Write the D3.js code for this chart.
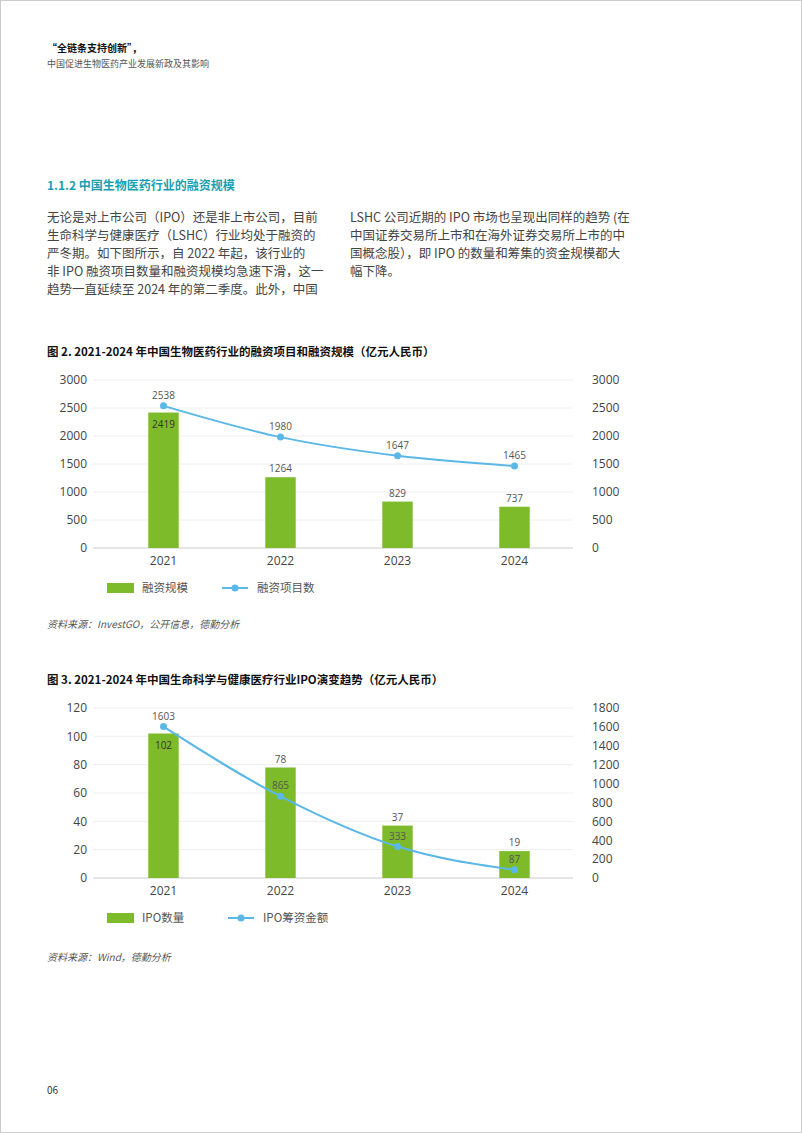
<!DOCTYPE html>
<html lang="zh">
<head>
<meta charset="utf-8">
<script src="https://d3js.org/d3.v7.min.js"></script>
<style>
body{margin:0;background:#fff;font-family:"Noto Sans CJK SC","Open Sans",sans-serif;}
svg text{font-family:"Open Sans","Noto Sans CJK SC",sans-serif;}
</style>
</head>
<body>
<svg id="page" width="802" height="1133"></svg>
<script>
var years = ["2021","2022","2023","2024"];
var fundScale = [2419,1264,829,737];
var fundCount = [2538,1980,1647,1465];
var ipoCount = [102,78,37,19];
var ipoAmount = [1603,865,333,87];
var ticks1L = [0,500,1000,1500,2000,2500,3000];
var ticks2L = [0,20,40,60,80,100,120];
var ticks2R = [0,200,400,600,800,1000,1200,1400,1600,1800];

var svg = d3.select("#page");
var cjk = '"Noto Sans CJK SC",sans-serif';
svg.append("rect").attr("x",0.5).attr("y",0.5).attr("width",801).attr("height",1132).attr("fill","none").attr("stroke","#ccc");

function txt(x,y,s,o){
  var t = svg.append("text").attr("x",x).attr("y",y).text(s)
    .style("font-family",cjk).style("font-size",(o.size||12)+"px").attr("fill",o.fill||"#333");
  if(o.bold) t.style("font-weight","bold");
  if(o.italic) t.style("font-style","italic");
  return t;
}
txt(47,52,"“全链条支持创新”，",{size:10,bold:true,fill:"#111"});
txt(47,67,"中国促进生物医药产业发展新政及其影响",{size:9,fill:"#555"});
txt(47,190,"1.1.2 中国生物医药行业的融资规模",{size:12,bold:true,fill:"#1a9fb0"});
var left = ["无论是对上市公司（IPO）还是非上市公司，目前","生命科学与健康医疗（LSHC）行业均处于融资的","严冬期。如下图所示，自 2022 年起，该行业的","非 IPO 融资项目数量和融资规模均急速下滑，这一","趋势一直延续至 2024 年的第二季度。此外，中国"];
var right = ["LSHC 公司近期的 IPO 市场也呈现出同样的趋势 (在","中国证券交易所上市和在海外证券交易所上市的中","国概念股），即 IPO 的数量和筹集的资金规模都大","幅下降。"];
left.forEach(function(s,i){txt(47,222+i*18,s,{size:12.5,fill:"#444"});});
right.forEach(function(s,i){txt(350,222+i*18,s,{size:12.5,fill:"#444"});});
txt(47,356,"图 2. 2021-2024 年中国生物医药行业的融资项目和融资规模（亿元人民币）",{size:11.5,bold:true,fill:"#111"});
txt(47,628,"资料来源：InvestGO，公开信息，德勤分析",{size:10,italic:true,fill:"#555"});
txt(47,684,"图 3. 2021-2024 年中国生命科学与健康医疗行业IPO演变趋势（亿元人民币）",{size:11.5,bold:true,fill:"#111"});
txt(47,961,"资料来源：Wind，德勤分析",{size:10,italic:true,fill:"#555"});
txt(47,1094,"06",{size:10,fill:"#333"});

var green = "#7dbb2a", blue = "#5bb8e6";

function chart(o){
  var x = d3.scaleBand().domain(years).range([105,573]).paddingInner(0.74).paddingOuter(0.37);
  var yL = d3.scaleLinear().domain(o.dL).range([o.y0,o.y1]);
  var yR = d3.scaleLinear().domain(o.dR).range([o.y0,o.y1]);
  var g = svg.append("g");
  var axL = g.append("g").attr("transform","translate(90,0)").call(d3.axisLeft(yL).tickValues(o.tL).tickFormat(d3.format("d")).tickSize(0).tickPadding(3));
  var axR = g.append("g").attr("transform","translate(590,0)").call(d3.axisRight(yR).tickValues(o.tR).tickFormat(d3.format("d")).tickSize(0).tickPadding(2));
  [axL,axR].forEach(function(a){a.select(".domain").remove();a.selectAll("text").attr("fill","#444").style("font-size","12px");});
  g.selectAll(".grid").data(o.tL).join("line").attr("x1",93).attr("x2",573)
    .attr("y1",function(d){return yL(d);}).attr("y2",function(d){return yL(d);})
    .attr("stroke",function(d){return d===0?"#ccc":"#eee";});
  g.selectAll(".bar").data(o.bars).join("rect")
    .attr("x",function(d,i){return x(years[i]);}).attr("width",x.bandwidth())
    .attr("y",function(d){return yL(d);}).attr("height",function(d){return o.y0-yL(d);}).attr("fill",green);
  g.selectAll(".bl").data(o.bars).join("text")
    .attr("x",function(d,i){return x(years[i])+x.bandwidth()/2;})
    .attr("y",function(d,i){return i===0?yL(d)+15:yL(d)-5;})
    .attr("text-anchor","middle").style("font-size","10px")
    .attr("fill",function(d,i){return i===0?"#333":"#555";}).text(function(d){return d;});
  var cx = function(d,i){return x(years[i])+x.bandwidth()/2;};
  g.append("path").datum(o.line).attr("fill","none").attr("stroke",blue).attr("stroke-width",2)
    .attr("d",d3.line().x(cx).y(function(d){return yR(d);}).curve(d3.curveMonotoneX));
  g.selectAll(".pt").data(o.line).join("circle").attr("cx",cx).attr("cy",function(d){return yR(d);})
    .attr("r",3.5).attr("fill",blue);
  g.selectAll(".ll").data(o.line).join("text").attr("x",cx)
    .attr("y",function(d){return yR(d)-7;})
    .attr("text-anchor","middle").style("font-size","10px").attr("fill","#555").text(function(d){return d;});
  g.selectAll(".xl").data(years).join("text").attr("x",function(d){return x(d)+x.bandwidth()/2;})
    .attr("y",o.y0+17).attr("text-anchor","middle").style("font-size","12px").attr("fill","#444").text(function(d){return d;});
  var ly = o.y0+40;
  g.append("rect").attr("x",107).attr("y",ly-5).attr("width",27).attr("height",10).attr("fill",green);
  g.append("text").attr("x",142).attr("y",ly+4).text(o.names[0]).style("font-family",cjk).style("font-size","11.5px").attr("fill","#555");
  g.append("line").attr("x1",o.lx).attr("x2",o.lx+26).attr("y1",ly).attr("y2",ly).attr("stroke",blue).attr("stroke-width",2);
  g.append("circle").attr("cx",o.lx+13).attr("cy",ly).attr("r",3.5).attr("fill",blue);
  g.append("text").attr("x",o.lx+35).attr("y",ly+4).text(o.names[1]).style("font-family",cjk).style("font-size","11.5px").attr("fill","#555");
}

chart({y0:548,y1:380,dL:[0,3000],dR:[0,3000],tL:ticks1L,tR:ticks1L,bars:fundScale,line:fundCount,
  names:["融资规模","融资项目数"],lx:222});
chart({y0:878,y1:708,dL:[0,120],dR:[0,1800],tL:ticks2L,tR:ticks2R,bars:ipoCount,line:ipoAmount,
  names:["IPO数量","IPO筹资金额"],lx:228});
</script>
</body>
</html>
